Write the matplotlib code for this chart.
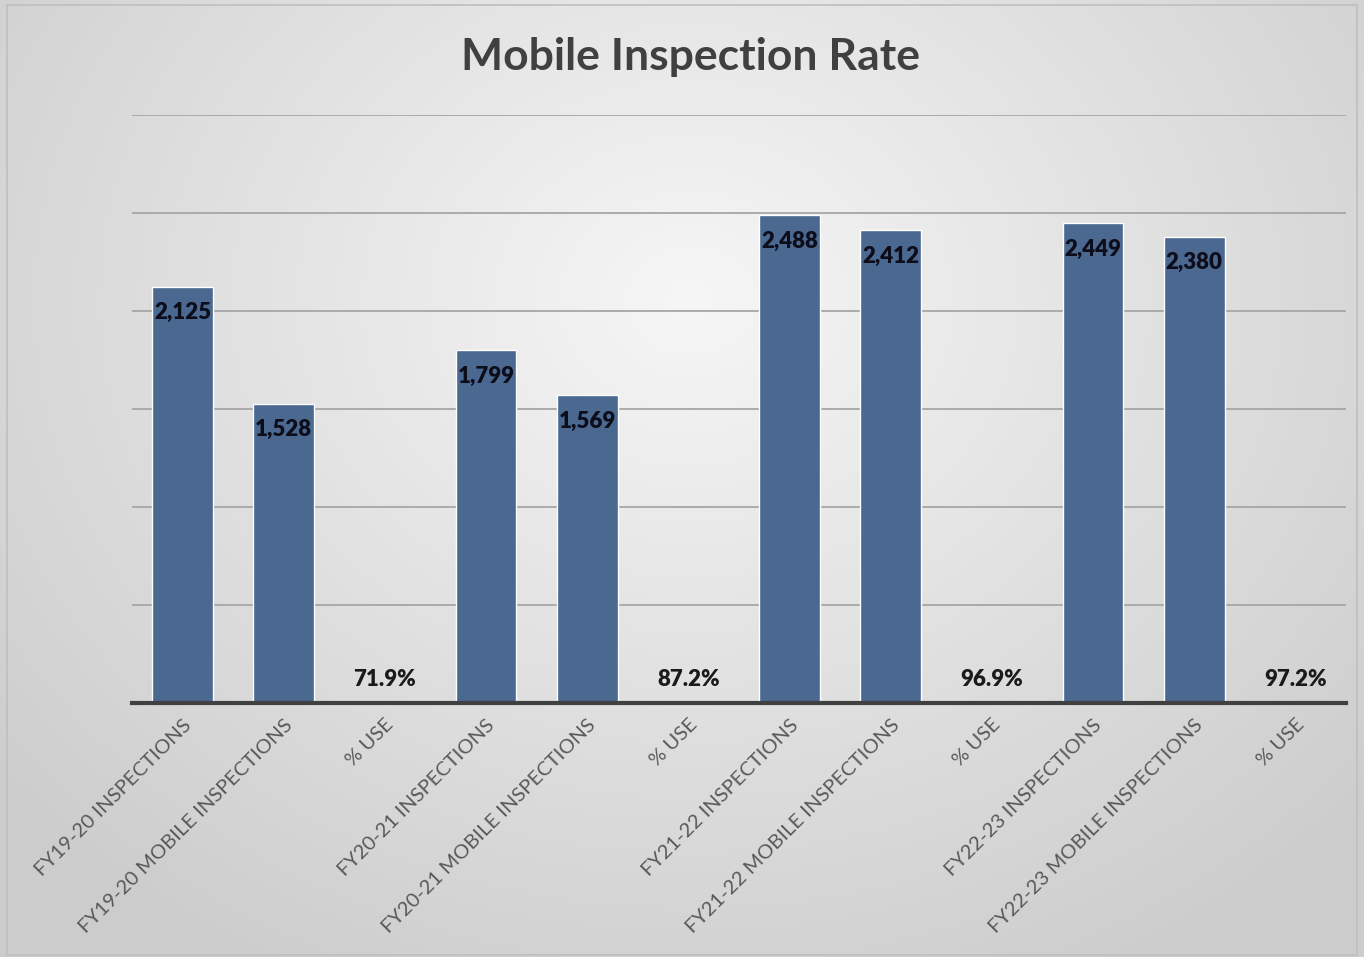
import numpy as np
import matplotlib.pyplot as plt
from matplotlib.patches import Rectangle

plt.rcParams['font.family'] = ['Lato', 'DejaVu Sans']

categories = ['FY19-20 INSPECTIONS', 'FY19-20 MOBILE INSPECTIONS', '% USE',
              'FY20-21 INSPECTIONS', 'FY20-21 MOBILE INSPECTIONS', '% USE',
              'FY21-22 INSPECTIONS', 'FY21-22 MOBILE INSPECTIONS', '% USE',
              'FY22-23 INSPECTIONS', 'FY22-23 MOBILE INSPECTIONS', '% USE']
values = [2125, 1528, 0.719, 1799, 1569, 0.872, 2488, 2412, 0.969, 2449, 2380, 0.972]
is_pct = [False, False, True] * 4

fig = plt.figure(figsize=(13.64, 9.57), dpi=100)

# radial gradient background
bg = fig.add_axes([0, 0, 1, 1], zorder=-10)
yy, xx = np.mgrid[0:957, 0:1364]
r = np.sqrt(((xx - 690) / 950.0) ** 2 + ((yy - 300) / 800.0) ** 2)
shade = np.clip(0.965 - 0.17 * r, 0.80, 0.97)
bg.imshow(np.dstack([shade] * 3), extent=[0, 1, 0, 1], aspect='auto', origin='upper')
bg.add_patch(Rectangle((0.005, 0.002), 0.99, 0.993, transform=bg.transAxes,
                       fill=False, edgecolor='#bfbfbf', linewidth=1.2))
bg.axis('off')

ax = fig.add_axes([132 / 1364, 1 - 703 / 957, 1214 / 1364, 588 / 957])
ax.patch.set_alpha(0)
x = np.arange(len(categories))
bars = ax.bar(x, values, width=0.6, color='#4a6890', edgecolor='white', linewidth=1.0, zorder=3)

ax.set_xlim(-0.5, len(categories) - 0.5)
ax.set_ylim(0, 3000)
ax.set_yticks(np.arange(500, 3001, 500))
ax.yaxis.grid(True, color='#a6a6a6', linewidth=1.3, zorder=0)
ax.tick_params(axis='y', left=False, labelleft=False)
ax.tick_params(axis='x', bottom=False, pad=6)
for s in ['top', 'right', 'left']:
    ax.spines[s].set_visible(False)
ax.spines['bottom'].set_color('#404040')
ax.spines['bottom'].set_linewidth(3)
ax.spines['bottom'].set_zorder(5)

ax.set_xticks(x)
ax.set_xticklabels(categories, rotation=45, ha='right', rotation_mode='anchor',
                   fontsize=14.5, color='#595959')

for xi, v, p in zip(x, values, is_pct):
    if p:
        ax.annotate(f'{v * 100:.1f}%', (xi, 0), xytext=(0, 24), textcoords='offset pixels',
                    ha='center', va='center', fontsize=16, fontweight='heavy', color='#1a1a1a', zorder=6)
    else:
        ax.annotate(f'{v:,.0f}', (xi, v), xytext=(0, -26), textcoords='offset pixels',
                    ha='center', va='center', fontsize=16, fontweight='heavy', color='#0d0d1a', zorder=6)

fig.text(0.506, 1 - 57 / 957, 'Mobile Inspection Rate', ha='center', va='center',
         fontsize=32, fontweight='bold', color='#404040')

fig.savefig('out.png', dpi=100)
